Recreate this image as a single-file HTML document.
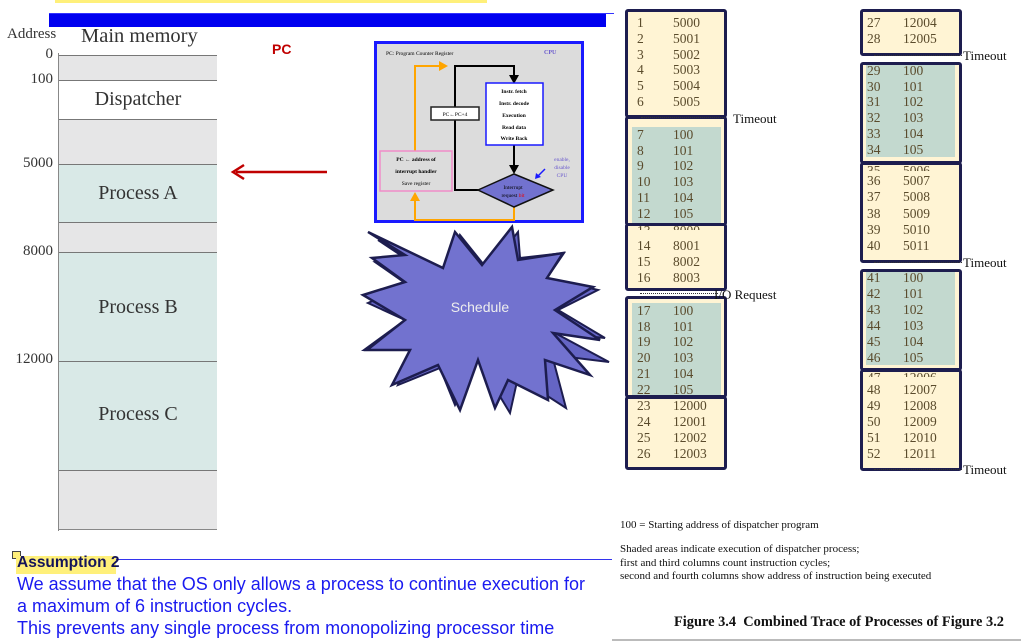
<!DOCTYPE html>
<html><head><meta charset="utf-8"><style>
body{margin:0;width:1021px;height:641px;position:relative;background:#fff;overflow:hidden;font-family:"Liberation Serif",serif}
.a{position:absolute}
.r{position:absolute;height:16px;line-height:16px;font-size:13.5px;color:#5a4b2c;font-family:"Liberation Serif",serif}
.bx{position:absolute;border:3px solid #1d1d4f;border-radius:3px;background:#fff4d4;box-sizing:border-box}
.sh{position:absolute;background:#c3d9cf}
.to{position:absolute;font-size:13px;color:#111;line-height:14px}
.dl{position:absolute;height:0;border-top:1px dotted #333}
.mem{position:absolute;left:59px;width:158px;border-top:1px solid #777;box-sizing:border-box}
.ml{position:absolute;font-size:20px;color:#333;width:158px;left:59px;text-align:center}
.ad{position:absolute;font-size:15px;color:#333;text-align:right;width:53px;left:0}
.s{position:absolute;font-size:11px;color:#111}
</style></head><body>
<div class="a" style="left:55px;top:0;width:432px;height:3px;background:#fff07a"></div>
<div class="a" style="left:49px;top:14px;width:557px;height:13px;background:#0000f0"></div>
<div class="a" style="left:49px;top:13px;width:565px;height:1px;background:#3333ff"></div>

<div class="a" style="left:7px;top:26px;font-size:15px;color:#333">Address</div>
<div class="a" style="left:81px;top:25px;font-size:20.5px;color:#333">Main memory</div>
<div class="a" style="left:58px;top:53px;width:1px;height:478px;background:#888"></div>
<div class="mem" style="top:55px;height:25px;background:#e6e6e7"></div>
<div class="mem" style="top:80px;height:39px;background:#fff"></div>
<div class="mem" style="top:119px;height:45px;background:#e6e6e7"></div>
<div class="mem" style="top:164px;height:58px;background:#d9e9e7"></div>
<div class="mem" style="top:222px;height:30px;background:#e6e6e7"></div>
<div class="mem" style="top:252px;height:109px;background:#d9e9e7"></div>
<div class="mem" style="top:361px;height:109px;background:#d9e9e7"></div>
<div class="mem" style="top:470px;height:60px;background:#e6e6e7;border-bottom:1px solid #888"></div>
<div class="ml" style="top:88px">Dispatcher</div>
<div class="ml" style="top:182px">Process A</div>
<div class="ml" style="top:296px">Process B</div>
<div class="ml" style="top:403px">Process C</div>
<div class="ad" style="top:46px">0</div>
<div class="ad" style="top:71px">100</div>
<div class="ad" style="top:155px">5000</div>
<div class="ad" style="top:243px">8000</div>
<div class="ad" style="top:351px">12000</div>

<div class="a" style="left:272px;top:41px;font:bold 14px 'Liberation Sans',sans-serif;color:#c00000">PC</div>
<svg class="a" style="left:0;top:0" width="1021" height="641">
<line x1="327" y1="172" x2="236" y2="172" stroke="#c00000" stroke-width="2.5"/>
<polyline points="244,165 233,172 244,179" fill="none" stroke="#c00000" stroke-width="2.5"/>
<rect x="375.5" y="42.5" width="207" height="179" fill="#dcdcdc" stroke="#1a1aff" stroke-width="3"/>
<text x="386" y="55" font-size="5.5" font-family="Liberation Serif">PC:  Program Counter Register</text>
<text x="544" y="54" font-size="6" font-family="Liberation Serif" fill="#6a5acd" font-weight="bold">CPU</text>
<polyline points="415,151 415,66 440,66" fill="none" stroke="#ffa500" stroke-width="2"/>
<polygon points="439,61 448,66 439,71" fill="#ffa500"/>
<polyline points="514,206 514,220 415,220 415,200" fill="none" stroke="#ffa500" stroke-width="2"/>
<polygon points="410,201 415,192 420,201" fill="#ffa500"/>
<polyline points="514,77 514,66 455,66 455,190 480,190" fill="none" stroke="#000" stroke-width="2"/>
<polygon points="509,75 519,75 514,84" fill="#000"/>
<line x1="514" y1="145" x2="514" y2="167" stroke="#000" stroke-width="2"/>
<polygon points="509,165 519,165 514,174" fill="#000"/>
<rect x="431" y="107" width="48" height="13" fill="#fff" stroke="#222" stroke-width="1.5"/>
<text x="455" y="116" font-size="5.5" text-anchor="middle" font-family="Liberation Serif">PC←PC+4</text>
<rect x="486" y="83" width="57" height="62" fill="#fff" stroke="#1a1aff" stroke-width="1.5"/>
<g font-size="5.5" font-weight="bold" text-anchor="middle" font-family="Liberation Serif">
<text x="514" y="93">Instr. fetch</text><text x="514" y="105">Instr. decode</text><text x="514" y="117">Execution</text><text x="514" y="129">Read data</text><text x="514" y="140">Write Back</text>
<text x="416" y="161">PC ← address of</text><text x="416" y="173">interrupt handler</text></g>
<text x="416" y="185" font-size="5.5" text-anchor="middle" font-family="Liberation Serif">Save register</text>
<rect x="380" y="151" width="72" height="40" fill="none" stroke="#f08cc8" stroke-width="1.5"/>
<polygon points="478,190 514,174 553,190 514,207" fill="#7272cf" stroke="#111" stroke-width="1.5"/>
<text x="513" y="189" font-size="5.5" text-anchor="middle" font-family="Liberation Serif">Interrupt</text>
<text x="513" y="197" font-size="5.5" text-anchor="middle" font-family="Liberation Serif">request <tspan fill="#e00">bit</tspan></text>
<g font-size="5.5" fill="#6a5acd" text-anchor="middle" font-family="Liberation Serif"><text x="562" y="161">enable,</text><text x="562" y="169">disable</text><text x="562" y="177">CPU</text></g>
<line x1="545" y1="169" x2="537" y2="177" stroke="#1a1aff" stroke-width="1.5"/>
<polygon points="535,179 536,173 541,177" fill="#1a1aff"/>
<polygon points="378,240 448,280 460,235 488,270 518,232 520,258 564,253 547,278 598,290 558,310 605,338 555,333 609,362 552,355 566,408 518,377 510,413 478,360 455,405 440,368 398,385 415,350 364,350 405,320 368,303 408,285 375,262 405,258" fill="#6565c5" stroke="#1d1d4f" stroke-width="2"/>
<polygon points="368,232 443,268 455,232 482,265 512,227 518,260 563,253 547,278 593,287 555,310 600,340 553,333 590,375 545,360 548,400 508,380 495,408 478,360 460,410 438,365 392,385 410,350 367,350 405,320 363,295 405,282 372,258 405,255" fill="#7272cf" stroke="#1d1d4f" stroke-width="2.5"/>
<text x="480" y="312" font-size="14" fill="#eee" text-anchor="middle" font-family="Liberation Sans">Schedule</text>
</svg>

<div class="bx" style="left:625px;top:9px;width:102px;height:109px"></div>
<div class="bx" style="left:625px;top:116px;width:102px;height:110px"></div>
<div class="sh" style="left:632px;top:127px;width:89px;height:96px"></div>
<div class="bx" style="left:625px;top:223px;width:102px;height:68px"></div>
<div class="bx" style="left:625px;top:296px;width:102px;height:102px"></div>
<div class="sh" style="left:632px;top:303px;width:89px;height:92px"></div>
<div class="bx" style="left:625px;top:396px;width:102px;height:74px"></div>
<div class="bx" style="left:860px;top:9px;width:102px;height:47px"></div>
<div class="bx" style="left:860px;top:62px;width:102px;height:102px"></div>
<div class="sh" style="left:866px;top:65px;width:89px;height:92px"></div>
<div class="bx" style="left:860px;top:162px;width:102px;height:101px"></div>
<div class="bx" style="left:860px;top:269px;width:102px;height:102px"></div>
<div class="sh" style="left:866px;top:272px;width:89px;height:93px"></div>
<div class="bx" style="left:860px;top:369px;width:102px;height:102px"></div>

<div class="dl" style="left:641px;top:117px;width:84px"></div>
<div class="to" style="left:733px;top:112px">Timeout</div>
<div class="dl" style="left:640px;top:293px;width:78px"></div>
<div class="to" style="left:714px;top:288px">I/O Request</div>
<div class="dl" style="left:874px;top:55px;width:88px"></div>
<div class="to" style="left:963px;top:49px">Timeout</div>
<div class="dl" style="left:874px;top:262px;width:88px"></div>
<div class="to" style="left:963px;top:256px">Timeout</div>
<div class="dl" style="left:874px;top:469px;width:88px"></div>
<div class="to" style="left:963px;top:463px">Timeout</div>

<div class="r" style="left:637px;top:15px">1</div><div class="r" style="left:673px;top:15px">5000</div>
<div class="r" style="left:637px;top:31px">2</div><div class="r" style="left:673px;top:31px">5001</div>
<div class="r" style="left:637px;top:47px">3</div><div class="r" style="left:673px;top:47px">5002</div>
<div class="r" style="left:637px;top:62px">4</div><div class="r" style="left:673px;top:62px">5003</div>
<div class="r" style="left:637px;top:78px">5</div><div class="r" style="left:673px;top:78px">5004</div>
<div class="r" style="left:637px;top:94px">6</div><div class="r" style="left:673px;top:94px">5005</div>
<div class="r" style="left:637px;top:127px">7</div><div class="r" style="left:673px;top:127px">100</div>
<div class="r" style="left:637px;top:143px">8</div><div class="r" style="left:673px;top:143px">101</div>
<div class="r" style="left:637px;top:158px">9</div><div class="r" style="left:673px;top:158px">102</div>
<div class="r" style="left:637px;top:174px">10</div><div class="r" style="left:673px;top:174px">103</div>
<div class="r" style="left:637px;top:190px">11</div><div class="r" style="left:673px;top:190px">104</div>
<div class="r" style="left:637px;top:206px">12</div><div class="r" style="left:673px;top:206px">105</div>
<div class="r" style="left:637px;top:223px;height:7px;overflow:hidden">13</div><div class="r" style="left:673px;top:223px;height:7px;overflow:hidden">8000</div>
<div class="r" style="left:637px;top:238px">14</div><div class="r" style="left:673px;top:238px">8001</div>
<div class="r" style="left:637px;top:254px">15</div><div class="r" style="left:673px;top:254px">8002</div>
<div class="r" style="left:637px;top:270px">16</div><div class="r" style="left:673px;top:270px">8003</div>
<div class="r" style="left:637px;top:303px">17</div><div class="r" style="left:673px;top:303px">100</div>
<div class="r" style="left:637px;top:319px">18</div><div class="r" style="left:673px;top:319px">101</div>
<div class="r" style="left:637px;top:334px">19</div><div class="r" style="left:673px;top:334px">102</div>
<div class="r" style="left:637px;top:350px">20</div><div class="r" style="left:673px;top:350px">103</div>
<div class="r" style="left:637px;top:366px">21</div><div class="r" style="left:673px;top:366px">104</div>
<div class="r" style="left:637px;top:382px">22</div><div class="r" style="left:673px;top:382px">105</div>
<div class="r" style="left:637px;top:398px">23</div><div class="r" style="left:673px;top:398px">12000</div>
<div class="r" style="left:637px;top:414px">24</div><div class="r" style="left:673px;top:414px">12001</div>
<div class="r" style="left:637px;top:430px">25</div><div class="r" style="left:673px;top:430px">12002</div>
<div class="r" style="left:637px;top:446px">26</div><div class="r" style="left:673px;top:446px">12003</div>

<div class="r" style="left:867px;top:15px">27</div><div class="r" style="left:903px;top:15px">12004</div>
<div class="r" style="left:867px;top:31px">28</div><div class="r" style="left:903px;top:31px">12005</div>
<div class="r" style="left:867px;top:63px">29</div><div class="r" style="left:903px;top:63px">100</div>
<div class="r" style="left:867px;top:79px">30</div><div class="r" style="left:903px;top:79px">101</div>
<div class="r" style="left:867px;top:94px">31</div><div class="r" style="left:903px;top:94px">102</div>
<div class="r" style="left:867px;top:110px">32</div><div class="r" style="left:903px;top:110px">103</div>
<div class="r" style="left:867px;top:126px">33</div><div class="r" style="left:903px;top:126px">104</div>
<div class="r" style="left:867px;top:142px">34</div><div class="r" style="left:903px;top:142px">105</div>
<div class="r" style="left:867px;top:163px;height:8px;overflow:hidden">35</div><div class="r" style="left:903px;top:163px;height:8px;overflow:hidden">5006</div>
<div class="r" style="left:867px;top:173px">36</div><div class="r" style="left:903px;top:173px">5007</div>
<div class="r" style="left:867px;top:189px">37</div><div class="r" style="left:903px;top:189px">5008</div>
<div class="r" style="left:867px;top:206px">38</div><div class="r" style="left:903px;top:206px">5009</div>
<div class="r" style="left:867px;top:222px">39</div><div class="r" style="left:903px;top:222px">5010</div>
<div class="r" style="left:867px;top:238px">40</div><div class="r" style="left:903px;top:238px">5011</div>
<div class="r" style="left:867px;top:270px">41</div><div class="r" style="left:903px;top:270px">100</div>
<div class="r" style="left:867px;top:286px">42</div><div class="r" style="left:903px;top:286px">101</div>
<div class="r" style="left:867px;top:302px">43</div><div class="r" style="left:903px;top:302px">102</div>
<div class="r" style="left:867px;top:318px">44</div><div class="r" style="left:903px;top:318px">103</div>
<div class="r" style="left:867px;top:334px">45</div><div class="r" style="left:903px;top:334px">104</div>
<div class="r" style="left:867px;top:350px">46</div><div class="r" style="left:903px;top:350px">105</div>
<div class="r" style="left:867px;top:370px;height:7px;overflow:hidden">47</div><div class="r" style="left:903px;top:370px;height:7px;overflow:hidden">12006</div>
<div class="r" style="left:867px;top:382px">48</div><div class="r" style="left:903px;top:382px">12007</div>
<div class="r" style="left:867px;top:398px">49</div><div class="r" style="left:903px;top:398px">12008</div>
<div class="r" style="left:867px;top:414px">50</div><div class="r" style="left:903px;top:414px">12009</div>
<div class="r" style="left:867px;top:430px">51</div><div class="r" style="left:903px;top:430px">12010</div>
<div class="r" style="left:867px;top:446px">52</div><div class="r" style="left:903px;top:446px">12011</div>

<div class="s" style="left:620px;top:519px">100 = Starting address of dispatcher program</div>
<div class="s" style="left:620px;top:543px;line-height:13.5px">Shaded areas indicate execution of dispatcher process;<br>first and third columns count instruction cycles;<br>second and fourth columns show address of instruction being executed</div>
<div class="a" style="left:674px;top:614px;font-size:14.4px;font-weight:bold;color:#111">Figure 3.4&nbsp; Combined Trace of Processes of Figure 3.2</div>
<div class="a" style="left:612px;top:639px;width:409px;height:2px;background:#bbb"></div>

<div class="a" style="left:16px;top:559px;width:596px;height:1px;background:#3333ee"></div>
<div class="a" style="left:12px;top:551px;width:7px;height:6px;border:1px solid #444;background:#ffef7a"></div>
<div class="a" style="left:16px;top:556px;width:100px;height:18px;background:#fff07a"></div>
<div class="a" style="left:17px;top:554px;font:bold 15.5px 'Liberation Sans',sans-serif;color:#14145a">Assumption 2</div>
<div class="a" style="left:17px;top:573px;font:18px/22px 'Liberation Sans',sans-serif;color:#1a1af0">We assume that the OS only allows a process to continue execution for<br>a maximum of 6 instruction cycles.<br>This prevents any single process from monopolizing processor time</div>
</body></html>
